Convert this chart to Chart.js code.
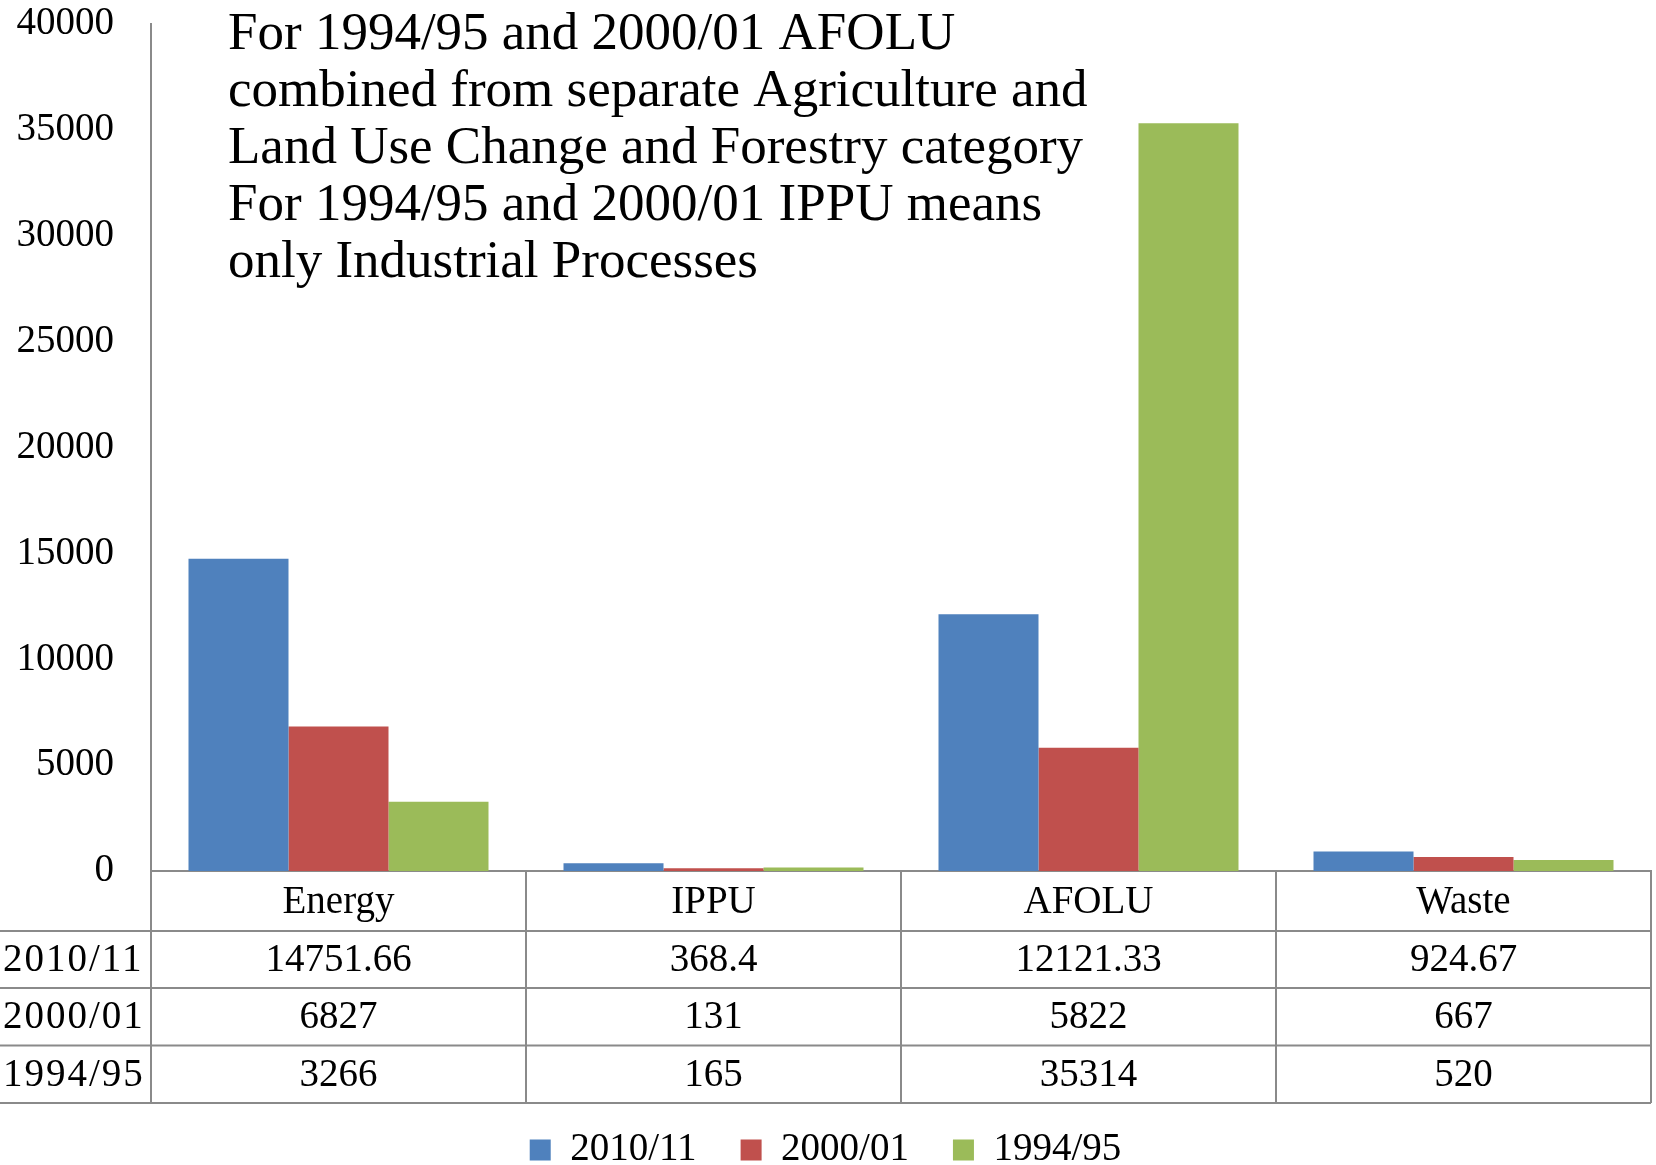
<!DOCTYPE html>
<html>
<head>
<meta charset="utf-8">
<script src="https://cdn.jsdelivr.net/npm/chart.js@4/dist/chart.umd.min.js"></script>
<style>
  html, body { margin: 0; padding: 0; background: #ffffff; overflow: hidden; }
  #wrap { width: 1656px; height: 1165px; position: relative; }
  canvas { display: block; }
</style>
</head>
<body>
<div id="wrap"><canvas id="c" width="1656" height="1165"></canvas></div>
<script>
// Emission categories and the three inventory years
const categories = ['Energy', 'IPPU', 'AFOLU', 'Waste'];
const seriesNames = ['2010/11', '2000/01', '1994/95'];
const values2010 = [14751.66, 368.4, 12121.33, 924.67];
const values2000 = [6827, 131, 5822, 667];
const values1994 = [3266, 165, 35314, 520];
const yTickLabels = ['0', '5000', '10000', '15000', '20000', '25000', '30000', '35000', '40000'];
const noteLines = [
  'For 1994/95 and 2000/01 AFOLU',
  'combined from separate Agriculture and',
  'Land Use Change and Forestry category',
  'For 1994/95 and 2000/01 IPPU means',
  'only Industrial Processes'
];

const seriesValues = [values2010, values2000, values1994];
const seriesColors = ['#4F81BD', '#C0504D', '#9BBB59'];
const SERIF = '"Liberation Serif", "Times New Roman", serif';
const LINE = '#8a8a8a';
const LEGEND_SHIFT = 14.5;

// Data table under the plot plus the explanatory note inside it
const tablePlugin = {
  id: 'dataTable',
  afterLayout(chart) {
    // nudge the legend row down to the foot of the canvas
    const lg = chart.legend;
    if (lg) { lg.top += LEGEND_SHIFT; lg.bottom += LEGEND_SHIFT; }
  },
  afterDraw(chart) {
    const { ctx, chartArea, scales } = chart;
    const xs = scales.x;
    const left = chartArea.left, right = chartArea.right;
    const top = chartArea.bottom;
    const catW = (right - left) / categories.length;
    const rowEdges = [top, top + 60, top + 117, top + 174.5, top + 232];

    ctx.save();
    ctx.strokeStyle = LINE;
    ctx.lineWidth = 2;
    ctx.beginPath();
    for (let r = 1; r < rowEdges.length; r++) {
      ctx.moveTo(0, rowEdges[r]);
      ctx.lineTo(right, rowEdges[r]);
    }
    for (let i = 0; i <= categories.length; i++) {
      const xv = left + i * catW;
      ctx.moveTo(xv, top);
      ctx.lineTo(xv, rowEdges[rowEdges.length - 1]);
    }
    ctx.stroke();

    ctx.fillStyle = '#000000';
    ctx.font = '39px ' + SERIF;
    ctx.textBaseline = 'middle';
    ctx.textAlign = 'center';
    categories.forEach((c, i) => {
      ctx.fillText(c, xs.getPixelForValue(i), (rowEdges[0] + rowEdges[1]) / 2 + 2);
    });
    seriesNames.forEach((name, s) => {
      const cy = (rowEdges[s + 1] + rowEdges[s + 2]) / 2 + 1;
      ctx.textAlign = 'left';
      ctx.letterSpacing = '2px';
      ctx.fillText(name, 3, cy);
      ctx.letterSpacing = '0px';
      ctx.textAlign = 'center';
      seriesValues[s].forEach((v, i) => {
        ctx.fillText(String(v), xs.getPixelForValue(i), cy);
      });
    });

    ctx.font = '53px ' + SERIF;
    ctx.textAlign = 'left';
    ctx.textBaseline = 'alphabetic';
    noteLines.forEach((line, k) => {
      ctx.fillText(line, left + 77, chartArea.top + 25 + k * 57);
    });
    ctx.restore();
  }
};

new Chart(document.getElementById('c'), {
  type: 'bar',
  data: {
    labels: categories,
    datasets: seriesNames.map((name, s) => ({
      label: name,
      data: seriesValues[s],
      backgroundColor: seriesColors[s],
      borderWidth: 0,
      categoryPercentage: 0.8,
      barPercentage: 1.0
    }))
  },
  options: {
    responsive: false,
    animation: false,
    devicePixelRatio: 1,
    layout: { padding: { top: 24, right: 5, left: 0, bottom: 0 } },
    plugins: {
      legend: {
        position: 'bottom',
        labels: {
          boxWidth: 21,
          boxHeight: 21,
          padding: 44,
          color: '#000000',
          font: { family: SERIF, size: 39 }
        }
      },
      tooltip: { enabled: false }
    },
    scales: {
      x: {
        grid: { display: false, drawTicks: false },
        border: { display: true, color: LINE, width: 2 },
        ticks: { display: false },
        afterFit(s) { s.height = 201; }
      },
      y: {
        min: 0,
        max: 40000,
        grid: { display: false, drawTicks: false },
        border: { display: true, color: LINE, width: 2 },
        ticks: {
          stepSize: 5000,
          padding: 37,
          color: '#000000',
          font: { family: SERIF, size: 39 },
          callback: (v) => yTickLabels[Math.round(v / 5000)]
        },
        afterFit(s) {
          s.width = 151;
          s.paddingTop = 24;
          s.paddingBottom = 0;
        }
      }
    }
  },
  plugins: [tablePlugin]
});
</script>
</body>
</html>
